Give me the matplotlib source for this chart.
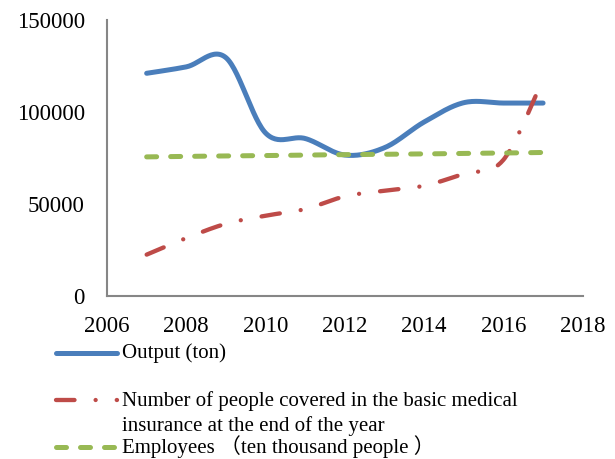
import matplotlib
matplotlib.use("Agg")
import matplotlib.pyplot as plt
from matplotlib.lines import Line2D
import numpy as np

# Data
years = [2007, 2008, 2009, 2010, 2011, 2012, 2013, 2014, 2015, 2016, 2017]
output_ton = [121000, 124500, 129500, 88500, 85500, 76500, 80500, 94500, 105000, 104800, 104800]
insured = [22300, 31300, 39100, 43500, 47100, 54000, 57100, 59800, 66300, 73900, 117800]
employees = [75500, 75800, 76000, 76200, 76500, 76700, 76900, 77100, 77400, 77600, 77900]

labels = ["Output (ton)",
          "Number of people covered in the basic medical\ninsurance at the end of the year",
          "Employees （ten thousand people ）"]

plt.rcParams['font.family'] = ['Liberation Serif', 'Noto Sans CJK SC']


def smooth(x, y, n=30):
    # Excel-style smoothed line (Catmull-Rom through the points)
    x = np.asarray(x, float)
    y = np.asarray(y, float)
    px = np.concatenate([[x[0]], x, [x[-1]]])
    py = np.concatenate([[y[0]], y, [y[-1]]])
    xs, ys = [], []
    t = np.linspace(0, 1, n)
    for i in range(1, len(px) - 2):
        for p, out in ((px, xs), (py, ys)):
            p0, p1, p2, p3 = p[i - 1], p[i], p[i + 1], p[i + 2]
            out.extend(0.5 * ((2 * p1) + (-p0 + p2) * t
                              + (2 * p0 - 5 * p1 + 4 * p2 - p3) * t ** 2
                              + (-p0 + 3 * p1 - 3 * p2 + p3) * t ** 3))
    return np.array(xs), np.array(ys)


fig = plt.figure(figsize=(6.15, 4.59), dpi=100)
ax = fig.add_axes([0.174, 0.356, 0.7735, 0.6004])

styles = [
    dict(color='#4a7ebb', lw=3.6, solid_capstyle='round'),
    dict(color='#be4b48', lw=3.1, dash_capstyle='round', linestyle=(0, (4.3, 4.9, 0.01, 4.9))),
    dict(color='#98b954', lw=3.6, dash_capstyle='round', linestyle=(0, (2, 2.8))),
]

for series, st in zip([output_ton, insured, employees], styles):
    sx, sy = smooth(years, series)
    ax.plot(sx, sy, **st)

ax.set_xlim(2006, 2018)
ax.set_ylim(0, 150000)
ax.set_xticks(range(2006, 2019, 2))
ax.set_yticks([0, 50000, 100000, 150000])
ax.tick_params(length=0, labelsize=16.5)
ax.tick_params(axis='y', pad=16)
ax.tick_params(axis='x', pad=15)
for s in ['top', 'right']:
    ax.spines[s].set_visible(False)
for s in ['left', 'bottom']:
    ax.spines[s].set_color('#868686')
    ax.spines[s].set_linewidth(1.5)

# legend below the plot, drawn like the Excel one
W, H = 615, 459
rows = [353, 400, 447]
text_y = [353, 413.5, 447]
for st, lab, ry, ty in zip(styles, labels, rows, text_y):
    fig.add_artist(Line2D([56 / W, 117 / W], [1 - ry / H, 1 - ry / H],
                          transform=fig.transFigure, **st))
    fig.text(122 / W, 1 - ty / H, lab, va='center', ha='left', fontsize=15, linespacing=1.3)

fig.savefig('out.png', dpi=100)
